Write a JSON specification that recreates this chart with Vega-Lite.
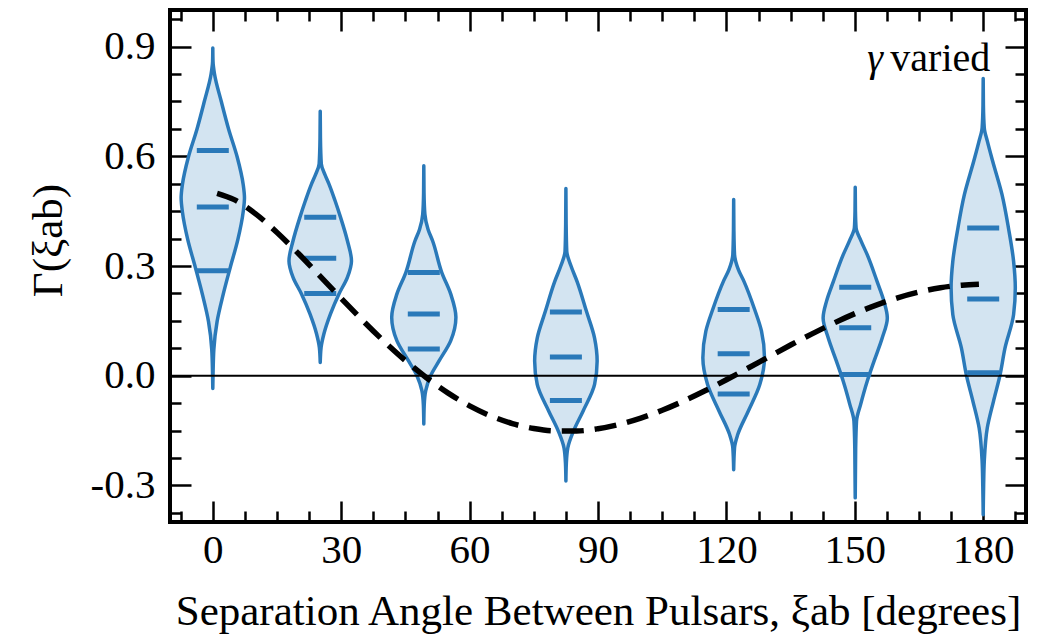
{
  "$schema": "https://vega.github.io/schema/vega-lite/v6.json",
  "width": 856,
  "height": 512,
  "autosize": {"type": "none"},
  "padding": {"left": 170, "top": 10, "right": 13, "bottom": 113},
  "background": "white",
  "config": {
    "view": {"stroke": "black", "strokeWidth": 4},
    "axis": {
      "grid": false,
      "domain": false,
      "labelFont": "Liberation Serif",
      "titleFont": "Liberation Serif",
      "labelFontSize": 41,
      "titleFontSize": 43,
      "titleFontWeight": "normal",
      "labelColor": "black",
      "titleColor": "black",
      "tickColor": "black",
      "tickWidth": 2.5,
      "labelOverlap": false,
      "labelFlush": false
    }
  },
  "resolve": {"axis": {"x": "independent", "y": "independent"}},
  "layer": [
    {
      "data": {"values": [
        {"v": 1, "g": 0.896, "lo": 0, "hi": 0},
        {"v": 1, "g": 0.86, "lo": -0.05, "hi": 0.05},
        {"v": 1, "g": 0.825, "lo": -0.4, "hi": 0.4},
        {"v": 1, "g": 0.749, "lo": -2.0, "hi": 2.0},
        {"v": 1, "g": 0.674, "lo": -3.7, "hi": 3.7},
        {"v": 1, "g": 0.598, "lo": -5.7, "hi": 5.7},
        {"v": 1, "g": 0.523, "lo": -7.1, "hi": 7.1},
        {"v": 1, "g": 0.486, "lo": -7.4, "hi": 7.4},
        {"v": 1, "g": 0.448, "lo": -7.1, "hi": 7.1},
        {"v": 1, "g": 0.372, "lo": -5.85, "hi": 5.85},
        {"v": 1, "g": 0.297, "lo": -4.1, "hi": 4.1},
        {"v": 1, "g": 0.221, "lo": -2.4, "hi": 2.4},
        {"v": 1, "g": 0.148, "lo": -1.0, "hi": 1.0},
        {"v": 1, "g": 0.073, "lo": -0.25, "hi": 0.25},
        {"v": 1, "g": 0.0, "lo": -0.05, "hi": 0.05},
        {"v": 1, "g": -0.035, "lo": 0, "hi": 0},

        {"v": 2, "g": 0.723, "lo": 25.1, "hi": 25.1},
        {"v": 2, "g": 0.65, "lo": 25.05, "hi": 25.15},
        {"v": 2, "g": 0.579, "lo": 24.85, "hi": 25.35},
        {"v": 2, "g": 0.55, "lo": 24.0, "hi": 26.2},
        {"v": 2, "g": 0.524, "lo": 23.05, "hi": 27.15},
        {"v": 2, "g": 0.479, "lo": 21.65, "hi": 28.55},
        {"v": 2, "g": 0.433, "lo": 20.35, "hi": 29.85},
        {"v": 2, "g": 0.369, "lo": 18.75, "hi": 31.45},
        {"v": 2, "g": 0.314, "lo": 17.8, "hi": 32.4},
        {"v": 2, "g": 0.269, "lo": 18.75, "hi": 31.45},
        {"v": 2, "g": 0.223, "lo": 20.75, "hi": 29.45},
        {"v": 2, "g": 0.169, "lo": 22.7, "hi": 27.5},
        {"v": 2, "g": 0.114, "lo": 24.25, "hi": 25.95},
        {"v": 2, "g": 0.077, "lo": 24.9, "hi": 25.3},
        {"v": 2, "g": 0.036, "lo": 25.1, "hi": 25.1},

        {"v": 3, "g": 0.574, "lo": 49.3, "hi": 49.3},
        {"v": 3, "g": 0.5, "lo": 49.25, "hi": 49.35},
        {"v": 3, "g": 0.442, "lo": 49.05, "hi": 49.55},
        {"v": 3, "g": 0.4, "lo": 48.3, "hi": 50.3},
        {"v": 3, "g": 0.369, "lo": 47.25, "hi": 51.35},
        {"v": 3, "g": 0.282, "lo": 45.1, "hi": 53.5},
        {"v": 3, "g": 0.223, "lo": 43.0, "hi": 55.6},
        {"v": 3, "g": 0.16, "lo": 41.8, "hi": 56.8},
        {"v": 3, "g": 0.096, "lo": 43.0, "hi": 55.6},
        {"v": 3, "g": 0.041, "lo": 45.7, "hi": 52.9},
        {"v": 3, "g": 0.0, "lo": 47.7, "hi": 50.9},
        {"v": 3, "g": -0.041, "lo": 48.85, "hi": 49.75},
        {"v": 3, "g": -0.08, "lo": 49.2, "hi": 49.4},
        {"v": 3, "g": -0.132, "lo": 49.3, "hi": 49.3},

        {"v": 4, "g": 0.512, "lo": 82.5, "hi": 82.5},
        {"v": 4, "g": 0.42, "lo": 82.45, "hi": 82.55},
        {"v": 4, "g": 0.34, "lo": 82.3, "hi": 82.7},
        {"v": 4, "g": 0.3, "lo": 81.3, "hi": 83.7},
        {"v": 4, "g": 0.258, "lo": 79.9, "hi": 85.1},
        {"v": 4, "g": 0.176, "lo": 77.7, "hi": 87.3},
        {"v": 4, "g": 0.103, "lo": 75.8, "hi": 89.2},
        {"v": 4, "g": 0.04, "lo": 75.2, "hi": 89.8},
        {"v": 4, "g": -0.024, "lo": 75.8, "hi": 89.2},
        {"v": 4, "g": -0.097, "lo": 78.5, "hi": 86.5},
        {"v": 4, "g": -0.152, "lo": 80.75, "hi": 84.25},
        {"v": 4, "g": -0.197, "lo": 82.05, "hi": 82.95},
        {"v": 4, "g": -0.24, "lo": 82.4, "hi": 82.6},
        {"v": 4, "g": -0.288, "lo": 82.5, "hi": 82.5},

        {"v": 5, "g": 0.482, "lo": 121.7, "hi": 121.7},
        {"v": 5, "g": 0.4, "lo": 121.65, "hi": 121.75},
        {"v": 5, "g": 0.331, "lo": 121.5, "hi": 121.9},
        {"v": 5, "g": 0.29, "lo": 120.6, "hi": 122.8},
        {"v": 5, "g": 0.258, "lo": 119.3, "hi": 124.1},
        {"v": 5, "g": 0.181, "lo": 116.8, "hi": 126.6},
        {"v": 5, "g": 0.122, "lo": 115.2, "hi": 128.2},
        {"v": 5, "g": 0.049, "lo": 114.5, "hi": 128.9},
        {"v": 5, "g": -0.024, "lo": 115.6, "hi": 127.8},
        {"v": 5, "g": -0.097, "lo": 118.3, "hi": 125.1},
        {"v": 5, "g": -0.161, "lo": 120.75, "hi": 122.65},
        {"v": 5, "g": -0.197, "lo": 121.5, "hi": 121.9},
        {"v": 5, "g": -0.257, "lo": 121.7, "hi": 121.7},

        {"v": 6, "g": 0.515, "lo": 150.1, "hi": 150.1},
        {"v": 6, "g": 0.45, "lo": 150.05, "hi": 150.15},
        {"v": 6, "g": 0.404, "lo": 149.9, "hi": 150.3},
        {"v": 6, "g": 0.37, "lo": 148.8, "hi": 151.4},
        {"v": 6, "g": 0.331, "lo": 147.3, "hi": 152.9},
        {"v": 6, "g": 0.258, "lo": 145.0, "hi": 155.2},
        {"v": 6, "g": 0.204, "lo": 143.4, "hi": 156.8},
        {"v": 6, "g": 0.158, "lo": 142.6, "hi": 157.6},
        {"v": 6, "g": 0.103, "lo": 143.8, "hi": 156.4},
        {"v": 6, "g": 0.04, "lo": 145.7, "hi": 154.5},
        {"v": 6, "g": -0.015, "lo": 147.3, "hi": 152.9},
        {"v": 6, "g": -0.079, "lo": 148.85, "hi": 151.35},
        {"v": 6, "g": -0.124, "lo": 149.8, "hi": 150.4},
        {"v": 6, "g": -0.2, "lo": 150.0, "hi": 150.2},
        {"v": 6, "g": -0.334, "lo": 150.1, "hi": 150.1},

        {"v": 7, "g": 0.813, "lo": 180, "hi": 180},
        {"v": 7, "g": 0.74, "lo": 179.95, "hi": 180.05},
        {"v": 7, "g": 0.678, "lo": 179.75, "hi": 180.25},
        {"v": 7, "g": 0.64, "lo": 179.0, "hi": 181.0},
        {"v": 7, "g": 0.587, "lo": 177.8, "hi": 182.2},
        {"v": 7, "g": 0.495, "lo": 175.6, "hi": 184.4},
        {"v": 7, "g": 0.404, "lo": 174.1, "hi": 185.9},
        {"v": 7, "g": 0.313, "lo": 172.9, "hi": 187.1},
        {"v": 7, "g": 0.24, "lo": 172.5, "hi": 187.5},
        {"v": 7, "g": 0.167, "lo": 172.9, "hi": 187.1},
        {"v": 7, "g": 0.076, "lo": 174.9, "hi": 185.1},
        {"v": 7, "g": 0.0, "lo": 176.1, "hi": 183.9},
        {"v": 7, "g": -0.07, "lo": 177.6, "hi": 182.4},
        {"v": 7, "g": -0.143, "lo": 179.05, "hi": 180.95},
        {"v": 7, "g": -0.234, "lo": 179.75, "hi": 180.25},
        {"v": 7, "g": -0.3, "lo": 179.9, "hi": 180.1},
        {"v": 7, "g": -0.38, "lo": 180, "hi": 180}
      ]},
      "mark": {"type": "area", "orient": "horizontal", "interpolate": "monotone", "fill": "#d3e4f1", "stroke": "#2a79b9", "strokeWidth": 3.5, "strokeJoin": "round"},
      "encoding": {
        "y": {
          "field": "g", "type": "quantitative",
          "scale": {"domain": [-0.4, 1.0], "nice": false, "zero": false},
          "axis": {
            "orient": "left",
            "values": [-0.375, -0.3, -0.225, -0.15, -0.075, 0, 0.075, 0.15, 0.225, 0.3, 0.375, 0.45, 0.525, 0.6, 0.675, 0.75, 0.825, 0.9, 0.975],
            "tickSize": {"condition": {"test": "abs(round(datum.value*1000)) % 300 == 0", "value": -21}, "value": -11},
            "labelExpr": "abs(round(datum.value*1000)) % 300 == 0 ? (datum.value < -0.01 ? '-' : '') + format(abs(datum.value), '.1f') : ''",
            "labelPadding": 36,
            "title": "Γ(ξab)",
            "titlePadding": 20,
            "titleY": 230
          }
        },
        "x": {
          "field": "lo", "type": "quantitative",
          "scale": {"domain": [-10, 190], "nice": false, "zero": false},
          "axis": {
            "orient": "bottom",
            "values": [-7.5, 0, 7.5, 15, 22.5, 30, 37.5, 45, 52.5, 60, 67.5, 75, 82.5, 90, 97.5, 105, 112.5, 120, 127.5, 135, 142.5, 150, 157.5, 165, 172.5, 180, 187.5],
            "tickSize": {"condition": {"test": "datum.value % 30 == 0", "value": -21}, "value": -11},
            "labelExpr": "datum.value % 30 == 0 ? format(datum.value, 'd') : ''",
            "labelPadding": 29,
            "title": "Separation Angle Between Pulsars, ξab [degrees]",
            "titlePadding": 10
          }
        },
        "x2": {"field": "hi"},
        "detail": {"field": "v"}
      }
    },
    {
      "data": {"values": [{}]},
      "mark": {"type": "rule", "color": "black", "strokeWidth": 2},
      "encoding": {
        "y": {"datum": 0, "type": "quantitative", "scale": {"domain": [-0.4, 1.0], "nice": false, "zero": false}, "axis": null}
      }
    },
    {
      "data": {"values": [
        {"c": 0, "q": 0.616}, {"c": 0, "q": 0.461}, {"c": 0, "q": 0.287},
        {"c": 25.1, "q": 0.433}, {"c": 25.1, "q": 0.321}, {"c": 25.1, "q": 0.225},
        {"c": 49.3, "q": 0.282}, {"c": 49.3, "q": 0.169}, {"c": 49.3, "q": 0.073},
        {"c": 82.5, "q": 0.174}, {"c": 82.5, "q": 0.051}, {"c": 82.5, "q": -0.068},
        {"c": 121.7, "q": 0.181}, {"c": 121.7, "q": 0.06}, {"c": 121.7, "q": -0.05},
        {"c": 150.1, "q": 0.242}, {"c": 150.1, "q": 0.131}, {"c": 150.1, "q": 0.003},
        {"c": 180, "q": 0.404}, {"c": 180, "q": 0.21}, {"c": 180, "q": 0.008}
      ]},
      "mark": {"type": "tick", "orient": "horizontal", "size": 32, "thickness": 5, "color": "#2a79b9", "opacity": 1},
      "encoding": {
        "x": {"field": "c", "type": "quantitative", "scale": {"domain": [-10, 190], "nice": false, "zero": false}, "axis": null},
        "y": {"field": "q", "type": "quantitative", "scale": {"domain": [-0.4, 1.0], "nice": false, "zero": false}, "axis": null}
      }
    },
    {
      "data": {"values": [
        {"a": 1, "g": 0.4989}, {"a": 5, "g": 0.4816}, {"a": 10, "g": 0.4425}, {"a": 15, "g": 0.3917},
        {"a": 20, "g": 0.3341}, {"a": 25, "g": 0.2732}, {"a": 30, "g": 0.2116}, {"a": 35, "g": 0.1514},
        {"a": 40, "g": 0.0942}, {"a": 45, "g": 0.0414}, {"a": 50, "g": -0.0062}, {"a": 55, "g": -0.0476},
        {"a": 60, "g": -0.0824}, {"a": 65, "g": -0.1102}, {"a": 70, "g": -0.1309}, {"a": 75, "g": -0.1445},
        {"a": 80, "g": -0.1511}, {"a": 85, "g": -0.1511}, {"a": 90, "g": -0.1449}, {"a": 95, "g": -0.1329},
        {"a": 100, "g": -0.1159}, {"a": 105, "g": -0.0945}, {"a": 110, "g": -0.0693}, {"a": 115, "g": -0.0413},
        {"a": 120, "g": -0.0111}, {"a": 125, "g": 0.0203}, {"a": 130, "g": 0.0522}, {"a": 135, "g": 0.0839},
        {"a": 140, "g": 0.1145}, {"a": 145, "g": 0.1433}, {"a": 150, "g": 0.1697}, {"a": 155, "g": 0.1931},
        {"a": 160, "g": 0.213}, {"a": 165, "g": 0.2289}, {"a": 170, "g": 0.2406}, {"a": 175, "g": 0.2476},
        {"a": 179, "g": 0.2499}
      ]},
      "mark": {"type": "line", "color": "black", "strokeWidth": 5.5, "strokeDash": [22, 11], "interpolate": "monotone"},
      "encoding": {
        "x": {
          "field": "a", "type": "quantitative",
          "scale": {"domain": [-10, 190], "nice": false, "zero": false},
          "axis": {
            "orient": "top",
            "values": [-7.5, 0, 7.5, 15, 22.5, 30, 37.5, 45, 52.5, 60, 67.5, 75, 82.5, 90, 97.5, 105, 112.5, 120, 127.5, 135, 142.5, 150, 157.5, 165, 172.5, 180, 187.5],
            "tickSize": {"condition": {"test": "datum.value % 30 == 0", "value": -21}, "value": -11},
            "labels": false,
            "title": null
          }
        },
        "y": {
          "field": "g", "type": "quantitative",
          "scale": {"domain": [-0.4, 1.0], "nice": false, "zero": false},
          "axis": {
            "orient": "right",
            "values": [-0.375, -0.3, -0.225, -0.15, -0.075, 0, 0.075, 0.15, 0.225, 0.3, 0.375, 0.45, 0.525, 0.6, 0.675, 0.75, 0.825, 0.9, 0.975],
            "tickSize": {"condition": {"test": "abs(round(datum.value*1000)) % 300 == 0", "value": -21}, "value": -11},
            "labels": false,
            "title": null
          }
        }
      }
    },
    {
      "data": {"values": [{}]},
      "mark": {"type": "text", "text": "varied", "font": "Liberation Serif", "fontSize": 40, "align": "left", "baseline": "alphabetic", "color": "black"},
      "encoding": {
        "x": {"datum": 158.3, "type": "quantitative", "scale": {"domain": [-10, 190], "nice": false, "zero": false}, "axis": null},
        "y": {"datum": 0.834, "type": "quantitative", "scale": {"domain": [-0.4, 1.0], "nice": false, "zero": false}, "axis": null}
      }
    },
    {
      "data": {"values": [{}]},
      "mark": {"type": "text", "text": "γ", "font": "Liberation Serif", "fontSize": 40, "fontStyle": "italic", "align": "right", "baseline": "alphabetic", "color": "black"},
      "encoding": {
        "x": {"datum": 156.6, "type": "quantitative", "scale": {"domain": [-10, 190], "nice": false, "zero": false}, "axis": null},
        "y": {"datum": 0.834, "type": "quantitative", "scale": {"domain": [-0.4, 1.0], "nice": false, "zero": false}, "axis": null}
      }
    }
  ]
}
